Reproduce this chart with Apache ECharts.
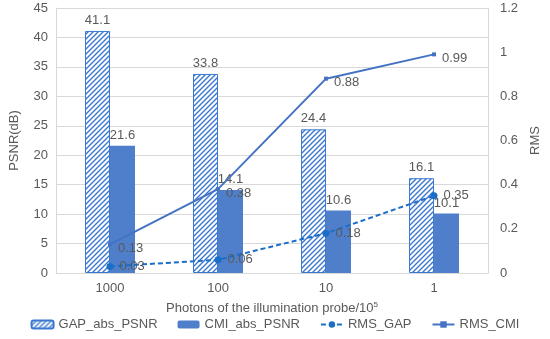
<!DOCTYPE html>
<html><head><meta charset="utf-8">
<script src="https://cdn.jsdelivr.net/npm/echarts@6/dist/echarts.min.js"></script>
<style>html,body{margin:0;padding:0;background:#fff}#c{width:550px;height:339px}</style>
</head><body><div id="c"></div>
<script>
var categories = ['1000', '100', '10', '1'];
var gapPsnr = [41.1, 33.8, 24.4, 16.1];
var cmiPsnr = [21.6, 14.1, 10.6, 10.1];
var rmsGap = [0.03, 0.06, 0.18, 0.35];
var rmsCmi = [0.13, 0.38, 0.88, 0.99];

function hatch() {
  var c = document.createElement('canvas');
  c.width = 5; c.height = 5;
  var x = c.getContext('2d');
  x.fillStyle = '#fff'; x.fillRect(0, 0, 5, 5);
  x.strokeStyle = '#3a78d0'; x.lineWidth = 1.4;
  x.beginPath();
  x.moveTo(-1, 6); x.lineTo(6, -1);
  x.moveTo(-1, 1); x.lineTo(1, -1);
  x.moveTo(4, 6); x.lineTo(6, 4);
  x.stroke();
  return c;
}
var chart = echarts.init(document.getElementById('c'));
var grey = '#595959';
var font = 'Liberation Sans, Arial, sans-serif';
var fs = 13;
chart.setOption({
  animation: false,
  textStyle: {fontFamily: font},
  grid: {left: 52, right: 47, top: 8, bottom: 66},
  legend: {
    bottom: 3, left: 'center', itemGap: 20, itemWidth: 22, itemHeight: 8,
    textStyle: {color: grey, fontSize: fs, fontFamily: font},
    data: ['GAP_abs_PSNR', 'CMI_abs_PSNR', 'RMS_GAP', 'RMS_CMI']
  },
  xAxis: {
    type: 'category', data: categories,
    name: 'Photons of the illumination probe/10{sup|5}',
    nameLocation: 'middle', nameGap: 28,
    nameTextStyle: {color: grey, fontSize: fs, rich: {sup: {fontSize: 8, verticalAlign: 'top', padding: [0, 0, 7, 0], color: grey}}},
    axisLine: {lineStyle: {color: '#d9d9d9'}},
    axisTick: {show: false},
    axisLabel: {color: grey, fontSize: fs, margin: 9}
  },
  yAxis: [{
    type: 'value', min: 0, max: 45, interval: 5,
    name: 'PSNR(dB)', nameLocation: 'middle', nameGap: 35,
    nameTextStyle: {color: grey, fontSize: fs},
    axisLine: {show: true, lineStyle: {color: '#d9d9d9'}},
    axisLabel: {color: grey, fontSize: fs},
    splitLine: {lineStyle: {color: '#d9d9d9'}}
  }, {
    type: 'value', min: 0, max: 1.2, interval: 0.2,
    name: 'RMS', nameLocation: 'middle', nameGap: 36,
    nameTextStyle: {color: grey, fontSize: fs},
    axisLine: {show: true, lineStyle: {color: '#d9d9d9'}},
    axisLabel: {color: grey, fontSize: fs, margin: 12, formatter: function (v) { return String(+v.toFixed(1)); }},
    splitLine: {show: false}
  }],
  series: [{
    name: 'GAP_abs_PSNR', type: 'bar', data: gapPsnr, barWidth: 25, barGap: '0%',
    itemStyle: {color: {image: hatch(), repeat: 'repeat'}, borderColor: '#3a78d0', borderWidth: 1},
    label: {show: true, position: 'top', color: grey, fontSize: fs, distance: 4}
  }, {
    name: 'CMI_abs_PSNR', type: 'bar', data: cmiPsnr, barWidth: 25,
    itemStyle: {color: '#4f7ecb'},
    label: {show: true, position: 'top', color: grey, fontSize: fs, distance: 4}
  }, {
    name: 'RMS_GAP', type: 'line', yAxisIndex: 1, data: rmsGap,
    symbol: 'circle', symbolSize: 7,
    lineStyle: {color: '#1a6ec8', width: 2, type: [5, 3]},
    itemStyle: {color: '#1a6ec8'},
    label: {show: true, position: 'right', color: grey, fontSize: fs, distance: 6}
  }, {
    name: 'RMS_CMI', type: 'line', yAxisIndex: 1, data: rmsCmi,
    symbol: 'rect', symbolSize: 4,
    lineStyle: {color: '#4472c4', width: 2},
    itemStyle: {color: '#4472c4'},
    label: {show: true, position: 'right', color: grey, fontSize: fs, distance: 6, offset: [0, 4]}
  }]
});
</script></body></html>
